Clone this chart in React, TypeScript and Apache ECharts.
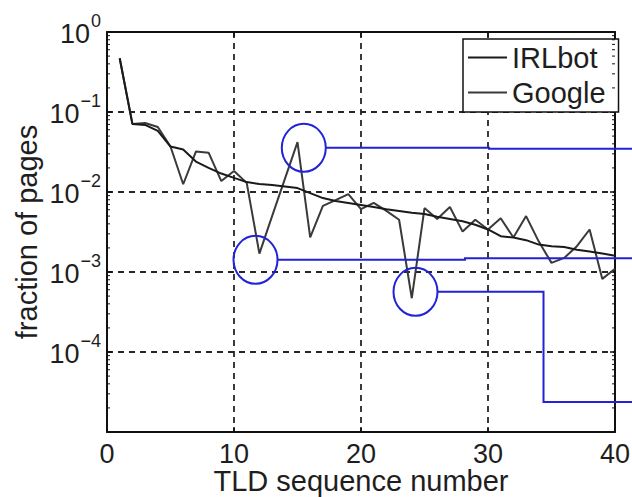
import React, { useEffect, useRef } from "react";
import * as echarts from "echarts";

// TLD sequence numbers (x)
const tldSeq = [
  1, 2, 3, 4, 5, 6, 7, 8, 9, 10, 11, 12, 13, 14, 15, 16, 17, 18, 19, 20,
  21, 22, 23, 24, 25, 26, 27, 28, 29, 30, 31, 32, 33, 34, 35, 36, 37, 38, 39, 40,
];

// fraction of pages, IRLbot (smooth, sorted)
const irlbot = [
  0.47, 0.071, 0.069, 0.058, 0.037, 0.034, 0.024, 0.02, 0.017, 0.015,
  0.0133, 0.0126, 0.0122, 0.0117, 0.0112, 0.0097, 0.0084, 0.0077, 0.0073, 0.0069,
  0.0065, 0.0061, 0.0058, 0.0055, 0.0053, 0.0049, 0.0046, 0.0043, 0.0039, 0.0034,
  0.0028, 0.0027, 0.0025, 0.0022, 0.0021, 0.00205, 0.0019, 0.0018, 0.0017, 0.0016,
];

// fraction of pages, Google (jagged)
const google = [
  0.47, 0.071, 0.073, 0.065, 0.037, 0.0125, 0.032, 0.031, 0.0137, 0.0183,
  0.013, 0.0017, 0.005, 0.0145, 0.042, 0.0027, 0.0067, 0.0079, 0.0094, 0.0061,
  0.0073, 0.0058, 0.0045, 0.00047, 0.0063, 0.0046, 0.0065, 0.0032, 0.0045, 0.0034,
  0.0047, 0.0027, 0.005, 0.0024, 0.0013, 0.0015, 0.0021, 0.0034, 0.00082, 0.0011,
];

// log-axis minor tick values (2..9 x 10^k)
const minorTicks = [
  2e-5, 3e-5, 4e-5, 5e-5, 6e-5, 7e-5, 8e-5, 9e-5,
  2e-4, 3e-4, 4e-4, 5e-4, 6e-4, 7e-4, 8e-4, 9e-4,
  2e-3, 3e-3, 4e-3, 5e-3, 6e-3, 7e-3, 8e-3, 9e-3,
  2e-2, 3e-2, 4e-2, 5e-2, 6e-2, 7e-2, 8e-2, 9e-2,
  0.2, 0.3, 0.4, 0.5, 0.6, 0.7, 0.8, 0.9,
];

const FONT = "'Liberation Sans', Arial, Helvetica, sans-serif";
const TEXT = "#1e1e1e";
const AXIS = "#111";
const BLUE = "#2323d6";

export default function App() {
  const ref = useRef<HTMLDivElement>(null);

  useEffect(() => {
    if (!ref.current) return;
    const chart = echarts.init(ref.current, undefined, { renderer: "svg" });

    const axisLine = { show: true, onZero: false, lineStyle: { color: AXIS, width: 2 } };
    const majorTick = { show: true, inside: true, length: 5, lineStyle: { color: AXIS, width: 1.5 } };
    const dashed = {
      show: true,
      showMinLine: false,
      showMaxLine: false,
      lineStyle: { color: "#262626", width: 1.8, type: [6, 5] },
    };

    const option: any = {
      animation: false,
      backgroundColor: "#fff",
      grid: {
        left: 107,
        right: 17,
        top: 32,
        bottom: 65,
        containLabel: false,
        outerBoundsMode: "none",
      },
      legend: {
        orient: "vertical",
        left: 463,
        top: 39,
        data: [
          { name: "IRLbot", icon: "rect" },
          { name: "Google", icon: "rect" },
        ],
        itemWidth: 39,
        itemHeight: 2,
        itemGap: 6,
        textStyle: { fontSize: 29, color: TEXT, fontFamily: FONT },
        borderColor: AXIS,
        borderWidth: 1.5,
        backgroundColor: "#fff",
        padding: [4, 13, 5, 5],
      },
      xAxis: [
        {
          type: "value",
          min: 0,
          max: 40,
          interval: 10,
          position: "bottom",
          axisLine,
          axisTick: majorTick,
          axisLabel: { fontSize: 27, lineHeight: 22, color: TEXT, fontFamily: FONT, margin: 11 },
          splitLine: dashed,
          name: "TLD sequence number",
          nameLocation: "middle",
          nameGap: 37,
          nameMoveOverlap: false,
          nameTextStyle: { fontSize: 29, lineHeight: 24, color: TEXT, fontFamily: FONT },
        },
        {
          type: "value",
          min: 0,
          max: 40,
          interval: 10,
          position: "top",
          axisLine,
          axisTick: majorTick,
          axisLabel: { show: false },
          splitLine: { show: false },
        },
      ],
      yAxis: [
        {
          type: "log",
          logBase: 10,
          min: 1e-5,
          max: 1,
          position: "left",
          axisLine,
          axisTick: majorTick,
          axisLabel: {
            margin: 6,
            formatter: (v: number) => {
              const e = Math.round(Math.log10(v));
              if (e === -5) return "";
              return `{b|10}{s|${e === 0 ? "0" : "\u2212" + -e}}`;
            },
            rich: {
              b: { fontSize: 27, color: TEXT, fontFamily: FONT, padding: [4, 0, 0, 0] },
              s: { fontSize: 18, color: TEXT, fontFamily: FONT, padding: [0, 0, 22, 1] },
            },
          },
          splitLine: dashed,
          name: "fraction of pages",
          nameLocation: "middle",
          nameGap: 66,
          nameMoveOverlap: false,
          nameTextStyle: { fontSize: 29, color: TEXT, fontFamily: FONT },
        },
        {
          type: "log",
          logBase: 10,
          min: 1e-5,
          max: 1,
          position: "right",
          axisLine,
          axisTick: majorTick,
          axisLabel: { show: false },
          splitLine: { show: false },
        },
      ],
      series: [
        {
          name: "IRLbot",
          type: "line",
          xAxisIndex: 0,
          yAxisIndex: 0,
          data: tldSeq.map((x, i) => [x, irlbot[i]]),
          symbol: "none",
          showSymbol: false,
          lineStyle: { color: "#1a1a1a", width: 2 },
          itemStyle: { color: "#1a1a1a" },
          z: 3,
        },
        {
          name: "Google",
          type: "line",
          xAxisIndex: 0,
          yAxisIndex: 0,
          data: tldSeq.map((x, i) => [x, google[i]]),
          symbol: "none",
          showSymbol: false,
          lineStyle: { color: "#3a3a3a", width: 2 },
          itemStyle: { color: "#3a3a3a" },
          z: 2,
        },
        {
          type: "custom",
          xAxisIndex: 0,
          yAxisIndex: 0,
          silent: true,
          data: minorTicks.map((v) => [0, v]),
          renderItem: (params: any, api: any) => {
            const p = api.coord([0, api.value(1)]);
            const cs = params.coordSys;
            const st = { stroke: AXIS, lineWidth: 1 };
            return {
              type: "group",
              children: [
                { type: "line", shape: { x1: cs.x, y1: p[1], x2: cs.x + 3, y2: p[1] }, style: st },
                {
                  type: "line",
                  shape: { x1: cs.x + cs.width - 3, y1: p[1], x2: cs.x + cs.width, y2: p[1] },
                  style: st,
                },
              ],
            };
          },
          z: 5,
        },
      ],
      graphic: [
        { type: "ellipse", z: 100, shape: { cx: 303.8, cy: 147.8, rx: 22, ry: 24 }, style: { fill: "none", stroke: BLUE, lineWidth: 2 } },
        { type: "polyline", z: 100, shape: { points: [[325.8, 147.8], [489, 147.8], [489, 148.7], [632, 148.7]] }, style: { fill: "none", stroke: BLUE, lineWidth: 2 } },
        { type: "ellipse", z: 100, shape: { cx: 255.5, cy: 259.8, rx: 22, ry: 24 }, style: { fill: "none", stroke: BLUE, lineWidth: 2 } },
        { type: "polyline", z: 100, shape: { points: [[277.5, 259.8], [465, 259.8], [465, 258.3], [632, 258.3]] }, style: { fill: "none", stroke: BLUE, lineWidth: 2 } },
        { type: "ellipse", z: 100, shape: { cx: 415.5, cy: 291.8, rx: 22, ry: 24 }, style: { fill: "none", stroke: BLUE, lineWidth: 2 } },
        { type: "polyline", z: 100, shape: { points: [[437.5, 291.8], [543.5, 291.8], [543.5, 402], [632, 402]] }, style: { fill: "none", stroke: BLUE, lineWidth: 2 } },
      ],
    };

    chart.setOption(option);
    return () => chart.dispose();
  }, []);

  return (
    <div
      ref={ref}
      style={{ position: "absolute", left: 0, top: 0, width: 632, height: 497 }}
    />
  );
}
